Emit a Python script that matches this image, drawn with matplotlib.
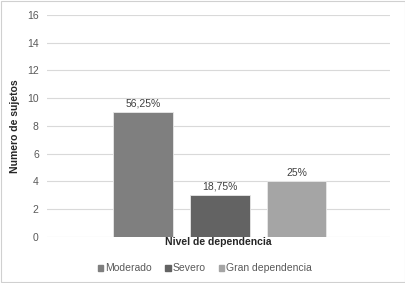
import matplotlib.pyplot as plt
from matplotlib.patches import Rectangle

categories = ['Moderado', 'Severo', 'Gran dependencia']
values = [9, 3, 4]
labels = ['56,25%', '18,75%', '25%']
colors = ['#7f7f7f', '#636363', '#a5a5a5']
yticks = [0, 2, 4, 6, 8, 10, 12, 14, 16]

plt.rcParams['font.family'] = ['Liberation Sans', 'DejaVu Sans']


def main():
    fig = plt.figure(figsize=(4.06, 2.83), dpi=100)
    ax = fig.add_axes([0.116, 0.163, 0.845, 0.784])

    xs = range(len(categories))
    bars = ax.bar(xs, values, width=0.78, color=colors, edgecolor='#e8e8e8',
                  linewidth=0.6, zorder=3)
    for b, lab in zip(bars, labels):
        ax.text(b.get_x() + b.get_width() / 2, b.get_height() + 0.25, lab,
                ha='center', va='bottom', fontsize=7.5, color='#404040')

    ax.set_xlim(-1.25, 3.22)
    ax.set_ylim(0, 16)
    ax.set_yticks(yticks)
    ax.set_xticks([])
    ax.yaxis.grid(True, color='#d9d9d9', linewidth=0.8, zorder=0)
    for s in ax.spines.values():
        s.set_visible(False)
    ax.tick_params(axis='y', length=0, labelsize=7.5, labelcolor='#595959', pad=6)

    ax.set_ylabel('Numero de sujetos', fontsize=7.5, fontweight='bold',
                  color='#262626', labelpad=5)
    ax.set_xlabel('Nivel de dependencia', fontsize=7.5, fontweight='bold',
                  color='#262626', labelpad=0)

    handles = [Rectangle((0, 0), 1, 1, color=c) for c in colors]
    fig.legend(handles, categories, loc='center', bbox_to_anchor=(0.505, 0.052),
               ncol=3, frameon=False, fontsize=7.5, handlelength=0.5,
               handleheight=0.5, handletextpad=0.2, columnspacing=1.3,
               labelcolor='#595959')

    fig.patches.append(Rectangle((0.003, 0.004), 0.994, 0.992, transform=fig.transFigure,
                                 fill=False, edgecolor='#d0d0d0', linewidth=0.8))
    fig.savefig('out.png', dpi=100)


if __name__ == '__main__':
    main()
